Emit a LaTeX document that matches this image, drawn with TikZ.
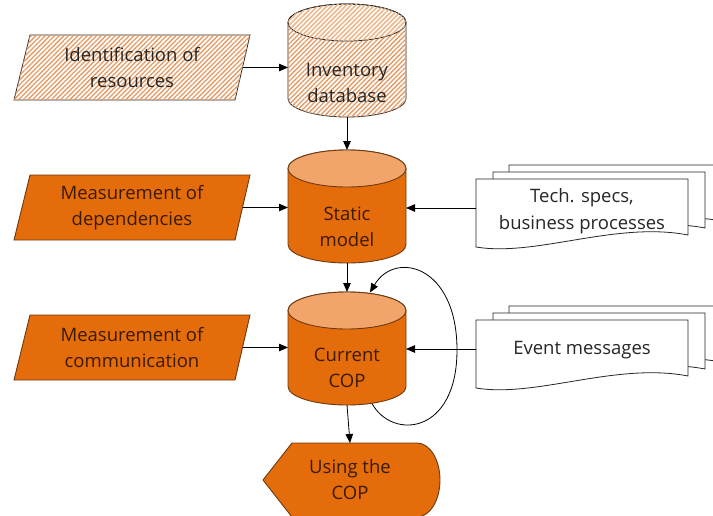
\documentclass[tikz,border=0pt]{standalone}
\usepackage{fontspec}
\setmainfont{Open Sans}
\usetikzlibrary{arrows.meta,patterns.meta}
\definecolor{org}{HTML}{E46C0A}
\definecolor{orgtop}{HTML}{F2A56A}
\definecolor{orgline}{HTML}{6B3A12}
\definecolor{hatch}{HTML}{E49A62}
\definecolor{hatchtop}{HTML}{F0BE94}
\definecolor{txtdark}{HTML}{3A1A00}
\definecolor{txtgray}{HTML}{262626}
\tikzset{
  solidbody/.style={fill=org,draw=orgline,line width=0.9pt},
  solidtop/.style={fill=orgtop,draw=orgline,line width=0.9pt},
  hatchbody/.style={draw=txtgray,line width=0.8pt,
    postaction={pattern={Lines[angle=45,distance=3.3pt,line width=1.3pt]},pattern color=hatch}},
  hatchtopst/.style={draw=txtgray,line width=0.8pt,
    postaction={pattern={Lines[angle=45,distance=3.3pt,line width=1.2pt]},pattern color=hatchtop}},
  docst/.style={fill=white,draw=txtgray,line width=0.8pt},
  anchorbox/.style={draw=none,inner sep=0pt,outer sep=0pt},
  lbl/.style={align=center,font=\fontsize{18.5}{26.5}\selectfont,inner sep=0pt},
  arr/.style={draw=black,line width=0.8pt,-{Triangle[length=9pt,width=7.5pt]}},
  pics/cyl/.style 2 args={code={
    \path[#1] (-59,-18.5) -- (-59,-94.5)
      arc[start angle=180,end angle=360,x radius=59,y radius=18.5]
      -- (59,-18.5)
      arc[start angle=0,end angle=180,x radius=59,y radius=18.5] -- cycle;
    \path[#2] (0,-18.5) ellipse[x radius=59,y radius=18.5];
  }},
  pics/docshape/.style={code={
    \path[docst] (0,0) -- (212,0) -- (212,-56)
      .. controls (140,-42) and (60,-78) .. (0,-68) -- cycle;
  }}
}
\begin{document}
\begin{tikzpicture}[x=1pt,y=1pt]
\useasboundingbox[fill=white] (0,0) rectangle (713,-515);

% parallelograms
\path[hatchbody] (14,-100) -- (30,-35) -- (250,-35) -- (235,-100) -- cycle;
\path[solidbody] (14,-240) -- (30,-175) -- (250,-175) -- (235,-240) -- cycle;
\path[solidbody] (14,-380) -- (30,-315) -- (250,-315) -- (235,-380) -- cycle;
\node[anchorbox,minimum width=220.5pt,minimum height=65pt] (p1box) at (132.25,-67.5) {};
\node[anchorbox,minimum width=220.5pt,minimum height=65pt] (p2box) at (132.25,-207.5) {};
\node[anchorbox,minimum width=220.5pt,minimum height=65pt] (p3box) at (132.25,-347.5) {};
\node[lbl,text=txtgray] (p1) at (132,-67.5) {Identification of\\resources};
\node[lbl,text=txtdark] (p2) at (132,-207.5) {Measurement of\\dependencies};
\node[lbl,text=txtdark] (p3) at (132,-347.5) {Measurement of\\communication};

% cylinders
\pic at (347,-4) {cyl={hatchbody}{hatchtopst}};
\pic at (347,-150) {cyl={solidbody}{solidtop}};
\pic at (347,-292) {cyl={solidbody}{solidtop}};
\node[anchorbox,minimum width=118pt,minimum height=113pt] (invbox) at (347,-60.5) {};
\node[anchorbox,minimum width=118pt,minimum height=113pt] (statbox) at (347,-206.5) {};
\node[anchorbox,minimum width=118pt,minimum height=113pt] (curbox) at (347,-348.5) {};
\node[lbl,text=txtgray] (inv) at (347,-83) {Inventory\\database};
\node[lbl,text=txtdark] (stat) at (347,-227) {Static\\model};
\node[lbl,text=txtdark] (cur) at (347,-368) {Current\\COP};

% display shape
\path[solidbody] (263,-480) -- (292,-443) -- (417,-443)
  arc[start angle=90,end angle=-90,x radius=23,y radius=37]
  -- (292,-517) -- cycle;
\node[anchorbox,minimum width=177pt,minimum height=74pt] (usebox) at (351.5,-480) {};
\node[lbl,text=txtdark] (use) at (350,-479.5) {Using the\\COP};

% document stacks
\pic at (509,-165) {docshape};
\pic at (493,-172) {docshape};
\pic at (476,-179) {docshape};
\pic at (509,-306) {docshape};
\pic at (493,-313) {docshape};
\pic at (476,-320) {docshape};
\node[anchorbox,minimum width=212pt,minimum height=20pt] (d1box) at (582,-208) {};
\node[anchorbox,minimum width=212pt,minimum height=20pt] (d2box) at (582,-349) {};
\node[lbl,text=txtgray] (d1) at (582,-211) {Tech. specs,\\business processes};
\node[lbl,text=txtgray] (d2) at (582,-350) {Event messages};

% connectors
\draw[arr] (p1box.east) -- (p1box.east -| invbox.west);
\draw[arr] (p2box.east) -- (p2box.east -| statbox.west);
\draw[arr] (p3box.east) -- (p3box.east -| curbox.west);
\draw[arr] (invbox.south) -- (statbox.north);
\draw[arr] (statbox.south) -- (curbox.north);
\draw[arr] (curbox.south) -- (usebox.north -| 350,0);
\draw[arr] (d1box.west) -- (d1box.west -| statbox.east);
\draw[arr] (d2box.west) -- (d2box.west -| curbox.east);
\coordinate (loopA) at (372,-403.5);
\coordinate (loopB) at (370,-292.5);
\draw[arr] (loopA) .. controls (392,-440) and (457,-435) .. (457,-350)
  .. controls (457,-265) and (395,-250) .. (loopB);
\end{tikzpicture}
\end{document}
